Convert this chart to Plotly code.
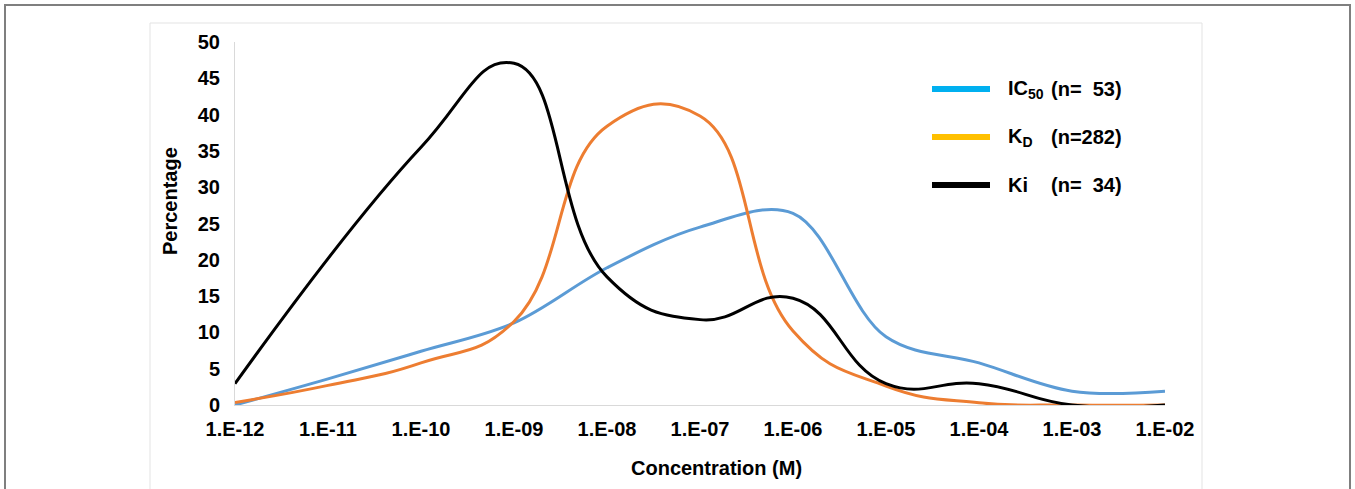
import plotly.graph_objects as go

# Data
conc = [1e-12, 1e-11, 1e-10, 1e-9, 1e-8, 1e-7, 1e-6, 1e-5, 1e-4, 1e-3, 1e-2]
tick_text = ["1.E-12", "1.E-11", "1.E-10", "1.E-09", "1.E-08", "1.E-07",
             "1.E-06", "1.E-05", "1.E-04", "1.E-03", "1.E-02"]
y_ticks = [0, 5, 10, 15, 20, 25, 30, 35, 40, 45, 50]

ic50_y = [0.0, 3.6, 7.4, 11.3, 18.9, 24.5, 26.4, 9.4, 5.8, 1.9, 1.9]
kd_y = [0.35, 2.7, 5.8, 11.5, 38.4, 39.8, 10.2, 2.6, 0.3, 0.0, 0.0]
ki_x = [1e-12, 1e-10, 1e-9, 1e-8, 1e-7, 1e-6, 1e-5, 1e-4, 1e-3, 1e-2]
ki_y = [2.94, 35.5, 47.06, 17.65, 11.76, 14.71, 2.94, 2.94, 0.0, 0.0]

curve_colors = ["#5B9BD5", "#ED7D31", "#000000"]
curve_smoothing = [1.0, 1.3, 1.3]
legend_colors = ["#00B0F0", "#FFC000", "#000000"]
legend_names = ["IC<sub>50</sub>", "K<sub>D</sub>", "Ki"]
legend_counts = ["(n=\u00a0\u00a053)", "(n=282)", "(n=\u00a0\u00a034)"]

FONT = "Liberation Sans, Arial, sans-serif"

fig = go.Figure()
for xs, ys, col, sm in zip([conc, conc, ki_x], [ic50_y, kd_y, ki_y], curve_colors, curve_smoothing):
    fig.add_trace(go.Scatter(x=xs, y=ys, mode="lines",
                             line=dict(color=col, width=3, shape="spline", smoothing=sm),
                             showlegend=False, hoverinfo="skip"))

# pixel geometry helpers (page pixels; body margin removed below)
L, R, T, B = 235, 1165, 42, 405
W, H = 1355, 489
def px(x):
    return (x - L) / (R - L)
def py(y):
    return (B - y) / (B - T)

shapes = [
    # outer frame
    dict(type="rect", xref="paper", yref="paper", x0=px(5), x1=px(1350), y0=py(5), y1=py(520),
         line=dict(color="#7f7f7f", width=2), layer="below"),
    # chart area frame
    dict(type="rect", xref="paper", yref="paper", x0=px(150), x1=px(1202), y0=py(23), y1=py(520),
         line=dict(color="#e3e3e3", width=1), layer="below"),
]
annotations = []
legend_y = [89, 137, 185]
for i in range(3):
    shapes.append(dict(type="line", xref="paper", yref="paper",
                       x0=px(932), x1=px(990), y0=py(legend_y[i]), y1=py(legend_y[i]),
                       line=dict(color=legend_colors[i], width=6)))
    annotations.append(dict(xref="paper", yref="paper", x=px(1006), y=py(legend_y[i]),
                            text="<b>" + legend_names[i] + "</b>", showarrow=False,
                            xanchor="left", yanchor="middle",
                            font=dict(family=FONT, size=20, color="#000000")))
    annotations.append(dict(xref="paper", yref="paper", x=px(1049), y=py(legend_y[i]),
                            text="<b>" + legend_counts[i] + "</b>", showarrow=False,
                            xanchor="left", yanchor="middle",
                            font=dict(family=FONT, size=20, color="#000000")))

annotations.append(dict(xref="paper", yref="paper", x=px(716), y=py(468),
                        text="<b>Concentration (M)</b>", showarrow=False,
                        xanchor="center", yanchor="middle",
                        font=dict(family=FONT, size=20, color="#000000")))
annotations.append(dict(xref="paper", yref="paper", x=px(170), y=py(201),
                        text="<b>Percentage</b>", showarrow=False, textangle=-90,
                        xanchor="center", yanchor="middle",
                        font=dict(family=FONT, size=20, color="#000000")))

fig.update_layout(
    width=W, height=H,
    margin=dict(l=L, r=W - R, t=T, b=H - B, pad=0),
    paper_bgcolor="#ffffff", plot_bgcolor="#ffffff",
    shapes=shapes, annotations=annotations,
    showlegend=False,
    xaxis=dict(type="log", range=[-12, -2], tickvals=conc, ticktext=tick_text,
               showgrid=False, zeroline=False, showline=True, linecolor="#d9d9d9", linewidth=1,
               ticks="", ticklabelstandoff=6,
               tickfont=dict(family=FONT, size=20, color="#000000", weight="bold")),
    yaxis=dict(range=[0, 50], tickmode="array", tickvals=y_ticks,
               showgrid=False, zeroline=False, showline=True, linecolor="#d9d9d9", linewidth=1,
               ticks="", ticklabelstandoff=10,
               tickfont=dict(family=FONT, size=20, color="#000000", weight="bold")),
)

fig.write_html("out.html", config={"displayModeBar": False},
               post_script="document.body.style.margin='0';document.body.style.overflow='hidden';")
